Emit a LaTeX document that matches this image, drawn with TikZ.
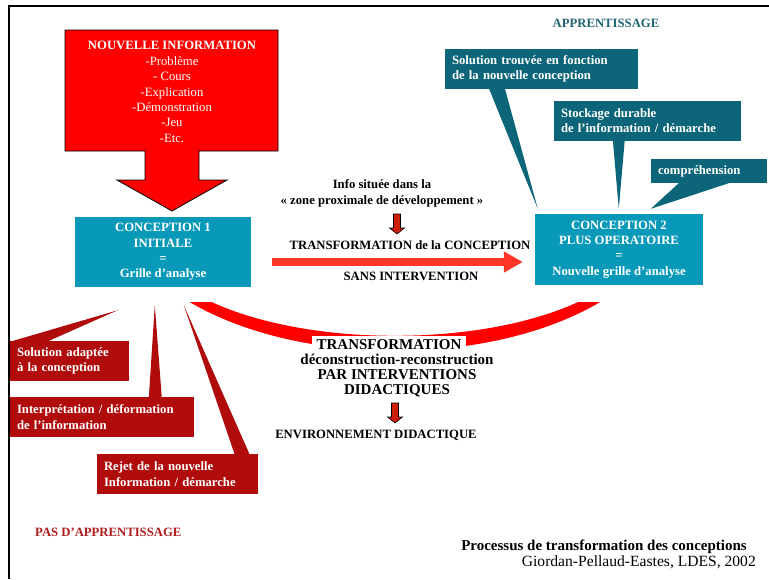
\documentclass[tikz,border=0pt]{standalone}
\usepackage{fontspec}
\setmainfont{Liberation Serif}
\usetikzlibrary{arrows.meta,calc}

\definecolor{conceptblue}{RGB}{8,153,185}
\definecolor{noteteal}{RGB}{12,101,120}
\definecolor{notered}{RGB}{176,12,12}
\definecolor{infored}{RGB}{255,0,0}
\definecolor{flowred}{RGB}{255,55,40}
\definecolor{titleteal}{RGB}{30,100,115}
\definecolor{titlered}{RGB}{176,28,28}
\definecolor{downred}{RGB}{205,30,10}

\begin{document}
\begin{tikzpicture}[
    x=1pt, y=-1pt,
    txt/.style={font=\fontsize{12.7pt}{15.4pt}\selectfont\bfseries, align=center, inner sep=0pt},
    big/.style={font=\fontsize{15pt}{15pt}\selectfont\bfseries, align=center, inner sep=0pt},
    concept/.style={rectangle, fill=conceptblue, text=white, font=\fontsize{12.7pt}{15.3pt}\selectfont\bfseries, align=center},
    note/.style={rectangle, text=white, font=\fontsize{12.7pt}{15.5pt}\selectfont\bfseries, align=left, inner xsep=7pt, inner ysep=0pt, minimum height=40pt},
    tealnote/.style={note, fill=noteteal},
    rednote/.style={note, fill=notered},
    arr/.style={-{Triangle[length=19pt,width=20pt]}, line width=8pt, flowred},
    downarr/.style={draw=black, fill=downred, line width=0.6pt}
]
    \useasboundingbox (0,0) rectangle (769,579);

    % new information box and its arrow
    \filldraw[fill=infored, draw=black, line width=0.8pt] (65,30) -- (278,30) -- (278,151) -- (199,151) -- (199,180) -- (227,180)
        -- (172,211) -- (117,180) -- (145,180) -- (145,151) -- (65,151) -- cycle;
    \node[txt, text=white, font=\fontsize{12.7pt}{15.4pt}\selectfont] (newinfo) at (172,92)
        {\textbf{NOUVELLE INFORMATION}\\-Problème\\- Cours\\-Explication\\-Démonstration\\-Jeu\\-Etc.};

    % conceptions
    \node[concept, minimum width=176pt, minimum height=70pt] (c1) at (163,252) {CONCEPTION 1\\INITIALE\\=\\Grille d’analyse};
    \node[concept, minimum width=168pt, minimum height=71pt] (c2) at (619,249.5) {CONCEPTION 2\\PLUS OPERATOIRE\\=\\Nouvelle grille d’analyse};

    % apprentissage
    \node[txt, text=titleteal] (appr) at (606,23) {APPRENTISSAGE};
    \node[tealnote, text width=179pt] (sol) at (541.5,69) {Solution trouvée en fonction\\de la nouvelle conception};
    \node[tealnote, text width=173pt] (stock) at (647.5,120.5) {Stockage durable\\de l’information / démarche};
    \node[tealnote, text width=102pt, minimum height=24pt] (compr) at (709,171) {compréhension};
    \fill[noteteal] ($(sol.south west)+(44,-1)$) -- ($(sol.south west)+(60,-1)$) -- ($(c2.north west)+(3,-5)$) -- cycle;
    \fill[noteteal] ($(stock.south west)+(59,-1)$) -- ($(stock.south west)+(71,-1)$) -- ($(c2.north west)+(84,-5)$) -- cycle;
    \fill[noteteal] ($(compr.south west)+(29,-1)$) -- ($(compr.south west)+(81,-1)$) -- ($(c2.north west)+(116,-5)$) -- cycle;

    % pas d'apprentissage
    \node[rednote, text width=105pt] (adapt) at (69.5,361) {Solution adaptée\\à la conception};
    \node[rednote, text width=170pt] (interp) at (102,417) {Interprétation / déformation\\de l’information};
    \node[rednote, text width=147pt] (rejet) at (177.5,474) {Rejet de la nouvelle\\Information / démarche};
    \fill[notered] ($(adapt.north west)+(0,1)$) -- ($(adapt.north west)+(37,1)$) -- ($(c1.south west)+(43,23)$) -- cycle;
    \fill[notered] ($(interp.north west)+(139,1)$) -- ($(interp.north west)+(152,1)$) -- ($(c1.south west)+(80,18)$) -- cycle;
    \fill[notered] ($(rejet.north west)+(138,1)$) -- ($(rejet.north west)+(153,1)$) -- ($(c1.south west)+(109,18)$) -- cycle;
    \node[txt, text=titlered, anchor=west] (pasappr) at (35,532) {PAS D’APPRENTISSAGE};

    % transformation sans intervention
    \node[txt, font=\fontsize{12.7pt}{16.7pt}\selectfont\bfseries] (zone) at (382,193.5) {Info située dans la\\« zone proximale de développement »};
    \draw[downarr] (397,214) ++(-3.5,0) -- ++(7,0) -- ++(0,14) -- ++(4,0) -- ++(-7.5,6) -- ++(-7.5,-6) -- ++(4,0) -- cycle;
    \node[txt] (transf) at (410,245) {TRANSFORMATION de la CONCEPTION};
    \draw[arr] ($(c1.east)+(21,10)$) -- ($(c2.west)+(-12,12.5)$);
    \node[txt] (sans) at (411,276) {SANS INTERVENTION};

    % transformation par interventions
    \fill[infored] ($(c1.south)+(27,15)$) .. controls (300,367) and (490,367) .. ($(c2.south west)+(65,17)$)
        -- ($(c2.south west)+(43,17)$) .. controls (480,347) and (310,347) .. ($(c1.south)+(49,15)$) -- cycle;
    \node[big, fill=white, inner xsep=4.5pt, inner ysep=3.5pt] (deep) at (389,345) {TRANSFORMATION};
    \node[big] (decon) at (397,375.5) {déconstruction-reconstruction\\PAR INTERVENTIONS\\DIDACTIQUES};
    \draw[downarr] (395,403) ++(-3.5,0) -- ++(7,0) -- ++(0,14) -- ++(4,0) -- ++(-7.5,6) -- ++(-7.5,-6) -- ++(4,0) -- cycle;
    \node[txt] (env) at (376,435) {ENVIRONNEMENT DIDACTIQUE};

    % source
    \node[big, anchor=east] (proc) at (747,547) {Processus de transformation des conceptions};
    \node[inner sep=0pt, font=\fontsize{15.6pt}{15.6pt}\selectfont, anchor=east] (src) at (756,562) {Giordan-Pellaud-Eastes, LDES, 2002};

    % frame
    \draw[line width=2.5pt] (9,579) -- (9,6) -- (769,6);
\end{tikzpicture}
\end{document}
